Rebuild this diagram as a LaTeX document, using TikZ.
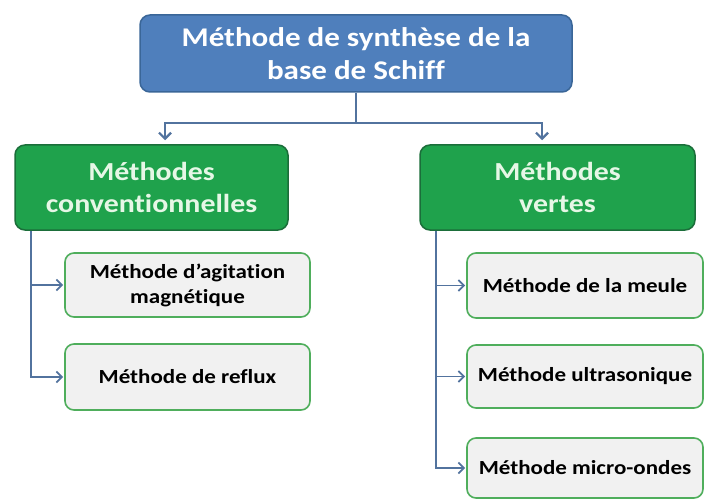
\documentclass[tikz,border=0pt]{standalone}
\usepackage{fontspec}
\setmainfont{Carlito}[FakeStretch=1.15, Ligatures=NoCommon]
\usetikzlibrary{arrows.meta}
\definecolor{topfill}{HTML}{4F7FBC}
\definecolor{topedge}{HTML}{3A6698}
\definecolor{grfill}{HTML}{1FA24C}
\definecolor{gredge}{HTML}{1B6E3A}
\definecolor{grtext}{HTML}{E6F7E6}
\definecolor{subfill}{HTML}{F1F1F1}
\definecolor{subedge}{HTML}{4FAE5C}
\definecolor{link}{HTML}{52739E}
\tikzset{
  x=1pt, y=-1pt,
  topbox/.style={draw=topedge, line width=1.5pt, fill=topfill, rounded corners=10pt,
    text=white, font=\bfseries\fontsize{27}{33}\selectfont, align=center,
    minimum width=432pt, minimum height=77pt, inner sep=0pt},
  groupbox/.style={draw=gredge, line width=1.5pt, fill=grfill, rounded corners=10pt,
    text=grtext, font=\bfseries\fontsize{26}{32}\selectfont, align=center,
    minimum height=85pt, inner sep=0pt},
  leafbox/.style={draw=subedge, line width=1.6pt, fill=subfill, rounded corners=9pt,
    text=black, font=\bfseries\fontsize{20}{25}\selectfont, align=center, inner sep=0pt},
  link/.style={draw=link, line width=2.2pt},
  bigtip/.style={link, -{Straight Barb[length=6pt,width=12pt,line width=2.2pt]}, shorten >=4pt},
  smalltip/.style={link, line width=1.8pt, -{Straight Barb[length=5.5pt,width=11pt,line width=1.8pt]}, shorten >=1pt}
}
\begin{document}
\begin{tikzpicture}
\useasboundingbox[fill=white] (0,0) rectangle (704,500);

% top box
\node[topbox] (top) at (356,53.5) {Méthode de synthèse de la\\base de Schiff};

% two families
\node[groupbox, minimum width=273pt] (conv) at (151.5,187.5) {Méthodes\\conventionnelles};
\node[groupbox, minimum width=275pt] (vert) at (557.5,187.5) {Méthodes\\vertes};

% conventional methods
\node[leafbox, minimum width=245pt, minimum height=64pt] (agit) at (187.5,285) {Méthode d’agitation\\magnétique};
\node[leafbox, minimum width=245pt, minimum height=66pt] (refl) at (187.5,377) {Méthode de reflux};

% green methods
\node[leafbox, minimum width=236pt, minimum height=65pt] (meul) at (585,285.5) {Méthode de la meule};
\node[leafbox, minimum width=236pt, minimum height=63pt] (ultr) at (585,376.5) {Méthode ultrasonique};
\node[leafbox, minimum width=236pt, minimum height=60pt] (micr) at (585,468) {Méthode micro-ondes};

% connectors from the top box
\coordinate (j) at (356,123);
\draw[link] (top.south) -- (j);
\draw[bigtip] (j) -| ([xshift=13.5pt]conv.north);
\draw[bigtip] (j) -| ([xshift=-15.5pt]vert.north);

% left branch
\coordinate (cl) at ([xshift=17pt]conv.south west);
\draw[smalltip] (cl) |- (agit.west);
\draw[smalltip] (cl) |- (refl.west);

% right branch
\coordinate (vl) at ([xshift=17pt]vert.south west);
\draw[smalltip] (vl) |- (meul.west);
\draw[smalltip] (vl) |- (ultr.west);
\draw[smalltip] (vl) |- (micr.west);
\end{tikzpicture}
\end{document}
